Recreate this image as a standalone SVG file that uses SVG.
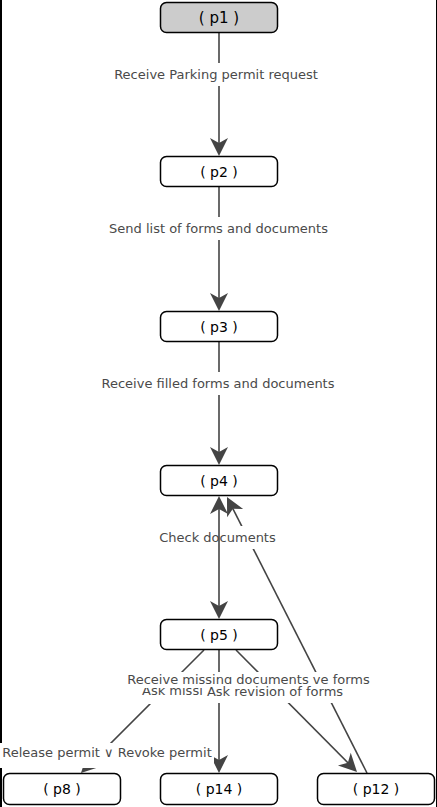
<svg xmlns="http://www.w3.org/2000/svg" width="437" height="807" viewBox="0 0 437 807">
<style>
.node rect{fill:#fff;stroke:#000;stroke-width:1.5}
.node.start rect{fill:#cccccc}
.node text{font-family:"DejaVu Sans",sans-serif;font-size:14px;fill:#000;text-anchor:middle}
.edge{fill:none;stroke:#444;stroke-width:1.6}
.lbl{font-family:"DejaVu Sans",sans-serif;font-size:13px;fill:#4a4a4a;text-anchor:middle}
.bg{fill:#fff}
</style>
<defs>
<marker id="arr" markerUnits="userSpaceOnUse" viewBox="-14 -10 22 20" refX="0" refY="0" markerWidth="22" markerHeight="20" orient="auto-start-reverse">
<path d="M-12,-9 L6,0 L-12,9 L-7,0 Z" fill="#444"/>
</marker>
</defs>
<rect x="0" y="0" width="437" height="807" fill="#fff"/>
<line x1="1" y1="0" x2="1" y2="807" stroke="#000" stroke-width="2"/>
<line x1="436.5" y1="0" x2="436.5" y2="807" stroke="#000" stroke-width="1"/>

<g id="connectors">
<path class="edge" d="M219,33 L219,150" marker-end="url(#arr)"/>
<rect class="bg" x="113" y="63" width="206" height="23"/>
<text class="lbl" x="216" y="79">Receive Parking permit request</text>

<path class="edge" d="M219,187 L219,305" marker-end="url(#arr)"/>
<rect class="bg" x="106" y="217" width="225" height="23"/>
<text class="lbl" x="218.5" y="233">Send list of forms and documents</text>

<path class="edge" d="M219,342 L219,459" marker-end="url(#arr)"/>
<rect class="bg" x="100" y="372" width="236" height="23"/>
<text class="lbl" x="218" y="388">Receive filled forms and documents</text>

<path class="edge" d="M367,773 L229.7,502.4" marker-end="url(#arr)"/>
<rect class="bg" x="157" y="526" width="121" height="23"/>
<text class="lbl" x="217.5" y="542">Check documents</text>
<path class="edge" d="M219,502 L219,613" stroke-width="2" marker-start="url(#arr)" marker-end="url(#arr)"/>

<path class="edge" d="M204,650 L85.2,768.8" marker-end="url(#arr)"/>
<path class="edge" d="M219,650 L219,767" stroke-width="2" marker-end="url(#arr)"/>
<path class="edge" d="M236,650 L352.8,767.7" marker-end="url(#arr)"/>

<rect class="bg" x="140" y="684" width="70" height="20"/>
<text class="lbl" x="142" y="695" style="text-anchor:start">Ask missi</text>
<rect class="bg" x="127" y="672" width="243" height="16"/>
<text class="lbl" x="248.5" y="684">Receive missing documents ve forms</text>
<rect class="bg" x="205" y="684" width="140" height="19"/>
<text class="lbl" x="275" y="696">Ask revision of forms</text>

<rect class="bg" x="0" y="743" width="214" height="25"/>
<text class="lbl" x="107" y="757">Release permit ∨ Revoke permit</text>
</g>

<g id="p1" class="node start"><rect x="160.5" y="2.5" width="117" height="30" rx="6"/><text x="219" y="23" style="font-size:15px">( p1 )</text></g>
<g id="p2" class="node"><rect x="160.5" y="156.5" width="117" height="30" rx="6"/><text x="219" y="176.5">( p2 )</text></g>
<g id="p3" class="node"><rect x="160.5" y="311.5" width="117" height="30" rx="6"/><text x="219" y="331.5">( p3 )</text></g>
<g id="p4" class="node"><rect x="160.5" y="465.5" width="117" height="30" rx="6"/><text x="219" y="485.5">( p4 )</text></g>
<g id="p5" class="node"><rect x="160.5" y="619.5" width="117" height="30" rx="6"/><text x="219" y="639.5">( p5 )</text></g>
<g id="p8" class="node"><rect x="3.5" y="773.5" width="117" height="31" rx="6"/><text x="62" y="794">( p8 )</text></g>
<g id="p14" class="node"><rect x="160.5" y="773.5" width="117" height="31" rx="6"/><text x="219" y="794">( p14 )</text></g>
<g id="p12" class="node"><rect x="317.5" y="773.5" width="117" height="31" rx="6"/><text x="376" y="794">( p12 )</text></g>
</svg>
